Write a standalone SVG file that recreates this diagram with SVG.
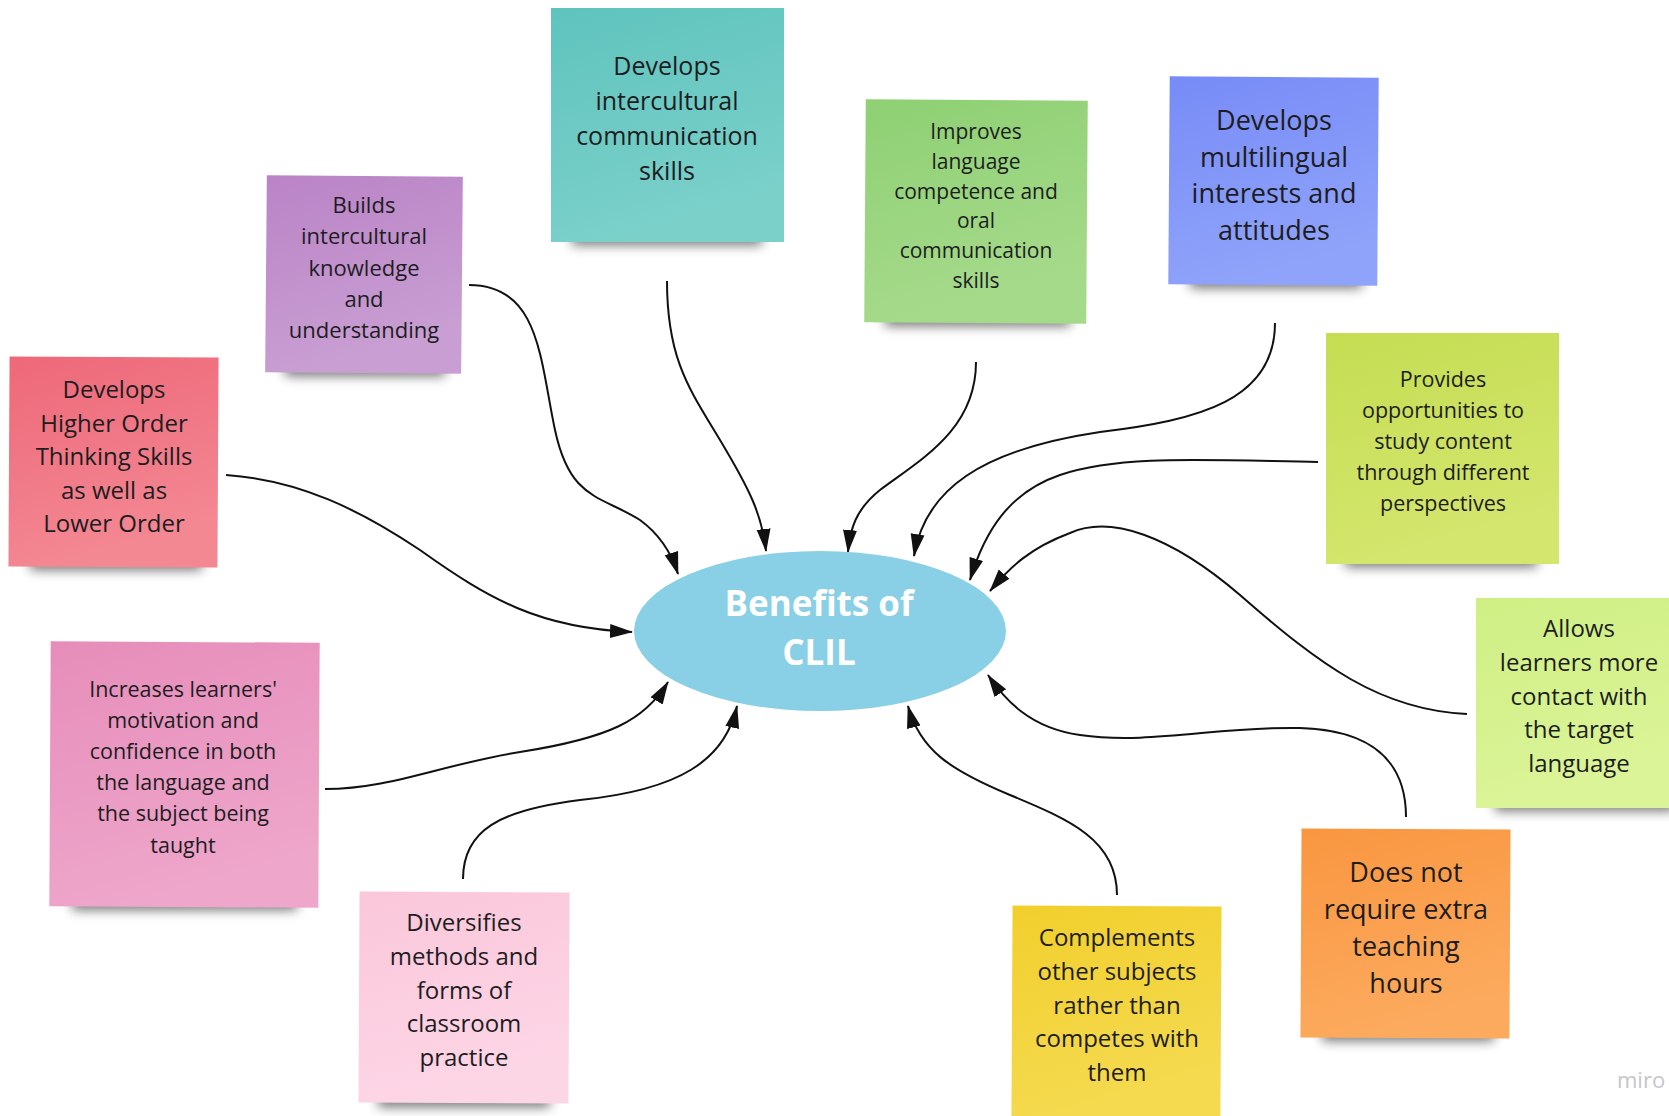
<svg xmlns="http://www.w3.org/2000/svg" width="1669" height="1116" viewBox="0 0 1669 1116">
<style>
.t{font-family:"Open Sans","Noto Sans",sans-serif;fill:#1d1d1f;text-anchor:middle}
.c{fill:none;stroke:#111;stroke-width:2}
.sh{fill:#000;opacity:0.55;filter:url(#blur)}
.ct{font-family:"Open Sans","Noto Sans",sans-serif;font-weight:bold;fill:#fff;text-anchor:middle;font-size:35px}
</style>
<defs>
<filter id="blur" x="-20%" y="-100%" width="140%" height="300%"><feGaussianBlur stdDeviation="6"/></filter>
<marker id="ah" markerUnits="userSpaceOnUse" markerWidth="24" markerHeight="16" refX="22" refY="7" orient="auto"><path d="M0,0 L23,7 L0,14 Z" fill="#111"/></marker>
<linearGradient id="gPur" x1="0" y1="0" x2="0.3" y2="1"><stop offset="0" stop-color="#BA83C6"/><stop offset="1" stop-color="#C99FD3"/></linearGradient>
<linearGradient id="gTeal" x1="0" y1="0" x2="0.3" y2="1"><stop offset="0" stop-color="#5FC3BD"/><stop offset="1" stop-color="#7BD0CA"/></linearGradient>
<linearGradient id="gGrn" x1="0" y1="0" x2="0.3" y2="1"><stop offset="0" stop-color="#8ED073"/><stop offset="1" stop-color="#A6DA8B"/></linearGradient>
<linearGradient id="gBlu" x1="0" y1="0" x2="0.3" y2="1"><stop offset="0" stop-color="#778BF7"/><stop offset="1" stop-color="#8FA3FA"/></linearGradient>
<linearGradient id="gYg" x1="0" y1="0" x2="0.3" y2="1"><stop offset="0" stop-color="#C4DD52"/><stop offset="1" stop-color="#D4E66E"/></linearGradient>
<linearGradient id="gLg" x1="0" y1="0" x2="0.3" y2="1"><stop offset="0" stop-color="#CFEF84"/><stop offset="1" stop-color="#DBF498"/></linearGradient>
<linearGradient id="gOr" x1="0" y1="0" x2="0.3" y2="1"><stop offset="0" stop-color="#F99640"/><stop offset="1" stop-color="#FCAA5E"/></linearGradient>
<linearGradient id="gYel" x1="0" y1="0" x2="0.3" y2="1"><stop offset="0" stop-color="#F1CF2C"/><stop offset="1" stop-color="#F5DA50"/></linearGradient>
<linearGradient id="gLp" x1="0" y1="0" x2="0.3" y2="1"><stop offset="0" stop-color="#FAC6DA"/><stop offset="1" stop-color="#FDD6E6"/></linearGradient>
<linearGradient id="gPk" x1="0" y1="0" x2="0.3" y2="1"><stop offset="0" stop-color="#E68DBA"/><stop offset="1" stop-color="#EEA6CA"/></linearGradient>
<linearGradient id="gRed" x1="0" y1="0" x2="0.3" y2="1"><stop offset="0" stop-color="#EE6879"/><stop offset="1" stop-color="#F38893"/></linearGradient>
</defs>
<rect width="1669" height="1116" fill="#fff"/>

<g id="connectors">
<path class="c" marker-end="url(#ah)" d="M469,285 C540,285 540,360 555,430 C570,500 600,495 640,520 C662,536 672,555 678,574"/>
<path class="c" marker-end="url(#ah)" d="M667,281 C667,360 690,390 720,440 C750,490 762,515 766,551"/>
<path class="c" marker-end="url(#ah)" d="M976,362 C976,430 920,460 880,490 C855,510 850,530 848,552"/>
<path class="c" marker-end="url(#ah)" d="M1275,323 C1275,400 1200,420 1100,432 C980,450 925,490 914,556"/>
<path class="c" marker-end="url(#ah)" d="M1318,462 C1200,460 1120,455 1060,475 C1010,492 985,530 970,580"/>
<path class="c" marker-end="url(#ah)" d="M1467,714 C1380,710 1320,665 1240,595 C1170,535 1110,515 1070,533 C1030,548 1010,567 990,591"/>
<path class="c" marker-end="url(#ah)" d="M1406,817 C1406,760 1370,730 1300,728 C1220,726 1150,745 1080,735 C1030,728 1005,700 988,675"/>
<path class="c" marker-end="url(#ah)" d="M1117,895 C1117,840 1070,820 1010,795 C950,770 920,750 908,706"/>
<path class="c" marker-end="url(#ah)" d="M463,879 C463,830 500,810 580,800 C680,790 725,760 737,706"/>
<path class="c" marker-end="url(#ah)" d="M325,789 C390,789 440,765 520,752 C610,738 645,720 668,682"/>
<path class="c" marker-end="url(#ah)" d="M226,475 C300,480 360,510 420,550 C490,600 540,628 632,632"/>
</g>

<g id="center">
<ellipse cx="820" cy="631" rx="186" ry="80" fill="#89CFE5"/>
<text class="ct" x="819" y="616">Benefits of</text>
<text class="ct" x="819" y="665">CLIL</text>
</g>

<g id="n-builds">
<rect class="sh" x="285" y="362" width="160" height="14"/>
<rect x="266" y="176" width="196" height="197" fill="url(#gPur)" transform="rotate(0.5 364 274)"/>
<text class="t" font-size="22" x="364" y="213">Builds<tspan x="364" dy="31.3">intercultural</tspan><tspan x="364" dy="31.3">knowledge</tspan><tspan x="364" dy="31.3">and</tspan><tspan x="364" dy="31.3">understanding</tspan></text>
</g>

<g id="n-teal">
<rect class="sh" x="572" y="231" width="190" height="14"/>
<rect x="551" y="8" width="233" height="234" fill="url(#gTeal)"/>
<text class="t" font-size="25" x="667" y="75">Develops<tspan x="667" dy="35">intercultural</tspan><tspan x="667" dy="35">communication</tspan><tspan x="667" dy="35">skills</tspan></text>
</g>

<g id="n-improves">
<rect class="sh" x="885" y="312" width="185" height="14"/>
<rect x="865" y="100" width="222" height="223" fill="url(#gGrn)" transform="rotate(0.4 976 211)"/>
<text class="t" font-size="21" x="976" y="139">Improves<tspan x="976" dy="29.8">language</tspan><tspan x="976" dy="29.8">competence and</tspan><tspan x="976" dy="29.8">oral</tspan><tspan x="976" dy="29.8">communication</tspan><tspan x="976" dy="29.8">skills</tspan></text>
</g>

<g id="n-multi">
<rect class="sh" x="1190" y="274" width="172" height="14"/>
<rect x="1169" y="77" width="209" height="208" fill="url(#gBlu)" transform="rotate(0.4 1274 181)"/>
<text class="t" font-size="27" x="1274" y="130">Develops<tspan x="1274" dy="36.6">multilingual</tspan><tspan x="1274" dy="36.6">interests and</tspan><tspan x="1274" dy="36.6">attitudes</tspan></text>
</g>

<g id="n-provides">
<rect class="sh" x="1345" y="553" width="192" height="14"/>
<rect x="1326" y="333" width="233" height="231" fill="url(#gYg)"/>
<text class="t" font-size="21.5" x="1443" y="387">Provides<tspan x="1443" dy="31.1">opportunities to</tspan><tspan x="1443" dy="31.1">study content</tspan><tspan x="1443" dy="31.1">through different</tspan><tspan x="1443" dy="31.1">perspectives</tspan></text>
</g>

<g id="n-allows">
<rect class="sh" x="1495" y="797" width="180" height="14"/>
<rect x="1476" y="598" width="200" height="210" fill="url(#gLg)"/>
<text class="t" font-size="24" x="1579" y="637">Allows<tspan x="1579" dy="33.8">learners more</tspan><tspan x="1579" dy="33.8">contact with</tspan><tspan x="1579" dy="33.8">the target</tspan><tspan x="1579" dy="33.8">language</tspan></text>
</g>

<g id="n-hours">
<rect class="sh" x="1322" y="1027" width="172" height="14"/>
<rect x="1301" y="829" width="209" height="209" fill="url(#gOr)" transform="rotate(0.3 1405 933)"/>
<text class="t" font-size="27" x="1406" y="882">Does not<tspan x="1406" dy="37">require extra</tspan><tspan x="1406" dy="37">teaching</tspan><tspan x="1406" dy="37">hours</tspan></text>
</g>

<g id="n-complements">
<rect x="1012" y="906" width="209" height="215" fill="url(#gYel)" transform="rotate(0.3 1116 1010)"/>
<text class="t" font-size="24" x="1117" y="946">Complements<tspan x="1117" dy="33.8">other subjects</tspan><tspan x="1117" dy="33.8">rather than</tspan><tspan x="1117" dy="33.8">competes with</tspan><tspan x="1117" dy="33.8">them</tspan></text>
</g>

<g id="n-diversifies">
<rect class="sh" x="378" y="1093" width="172" height="14"/>
<rect x="359" y="892" width="210" height="211" fill="url(#gLp)" transform="rotate(0.3 464 997)"/>
<text class="t" font-size="24" x="464" y="931">Diversifies<tspan x="464" dy="33.8">methods and</tspan><tspan x="464" dy="33.8">forms of</tspan><tspan x="464" dy="33.8">classroom</tspan><tspan x="464" dy="33.8">practice</tspan></text>
</g>

<g id="n-increases">
<rect class="sh" x="72" y="896" width="225" height="14"/>
<rect x="50" y="642" width="269" height="265" fill="url(#gPk)" transform="rotate(0.3 184 774)"/>
<text class="t" font-size="21.5" x="183" y="697">Increases learners'<tspan x="183" dy="31.1">motivation and</tspan><tspan x="183" dy="31.1">confidence in both</tspan><tspan x="183" dy="31.1">the language and</tspan><tspan x="183" dy="31.1">the subject being</tspan><tspan x="183" dy="31.1">taught</tspan></text>
</g>

<g id="n-hots">
<rect class="sh" x="30" y="556" width="172" height="14"/>
<rect x="9" y="357" width="209" height="210" fill="url(#gRed)" transform="rotate(0.3 113 462)"/>
<text class="t" font-size="24" x="114" y="398">Develops<tspan x="114" dy="33.5">Higher Order</tspan><tspan x="114" dy="33.5">Thinking Skills</tspan><tspan x="114" dy="33.5">as well as</tspan><tspan x="114" dy="33.5">Lower Order</tspan></text>
</g>

<text x="1617" y="1088" font-family="'Open Sans',sans-serif" font-size="22" fill="#c5c5ca">miro</text>
</svg>
